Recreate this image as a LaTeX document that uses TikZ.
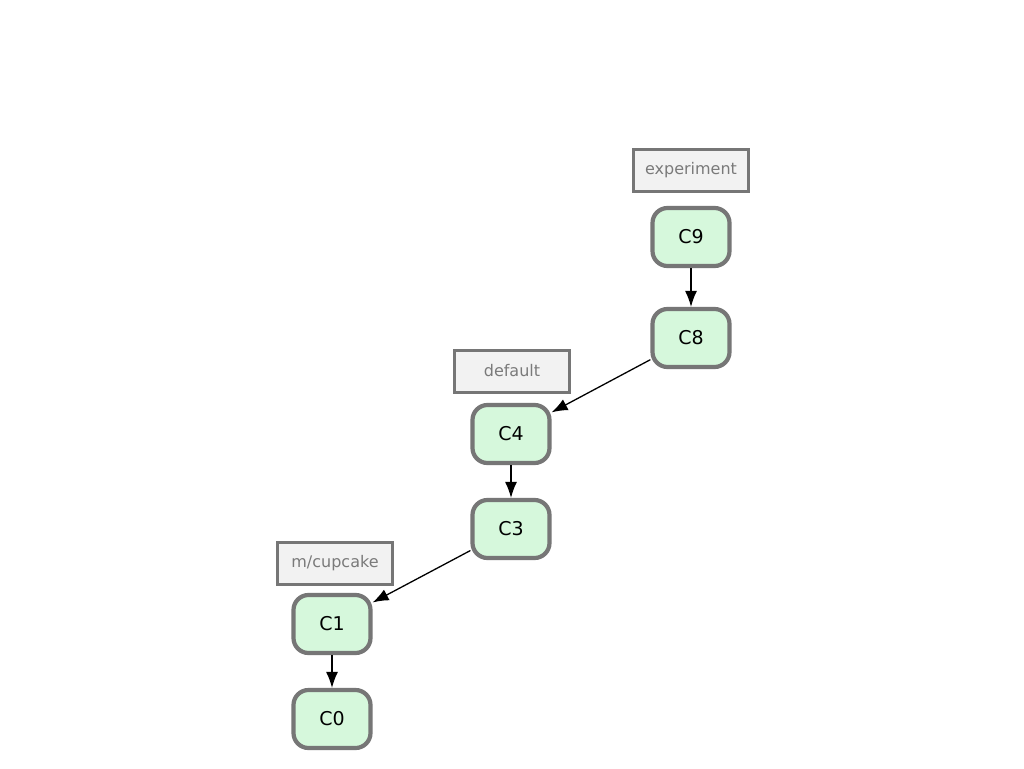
\documentclass[tikz,border=0pt]{standalone}
\usepackage{fontspec}
\setmainfont{DejaVu Sans}
\usetikzlibrary{arrows.meta}
\definecolor{cfill}{HTML}{D6F8DC}
\definecolor{cborder}{HTML}{767676}
\definecolor{lfill}{HTML}{F2F2F2}
\definecolor{ltext}{HTML}{7A7A7A}
\begin{document}
\begin{tikzpicture}[x=1pt,y=-1pt,
  commit/.style={draw=cborder,fill=cfill,line width=4.2pt,rounded corners=15pt,
    minimum width=77pt,minimum height=58pt,inner sep=0pt,
    font=\fontsize{19}{22}\selectfont,text=black},
  branch/.style={draw=cborder,fill=lfill,line width=3pt,
    minimum width=115pt,minimum height=42pt,inner sep=0pt,
    font=\fontsize{16}{19}\selectfont,text=ltext},
  link/.style={draw=black,line width=1.3pt,-{Latex[length=16pt,width=12pt]}}]
\useasboundingbox (0,0) rectangle (1024,768);
\fill[white] (0,0) rectangle (1024,768);
\node[branch] (lexp) at (691,170) {experiment};
\node[branch] (ldef) at (512,371) {default};
\node[branch] (lcup) at (335,563) {m/cupcake};
\node[commit] (c9) at (691,237) {C9};
\node[commit] (c8) at (691,338) {C8};
\node[commit] (c4) at (511,434) {C4};
\node[commit] (c3) at (511,529) {C3};
\node[commit] (c1) at (332,624) {C1};
\node[commit] (c0) at (332,719) {C0};
\draw[link] (c9) -- (c8);
\draw[link] (c8) -- (c4);
\draw[link] (c4) -- (c3);
\draw[link] (c3) -- (c1);
\draw[link] (c1) -- (c0);
\end{tikzpicture}
\end{document}
